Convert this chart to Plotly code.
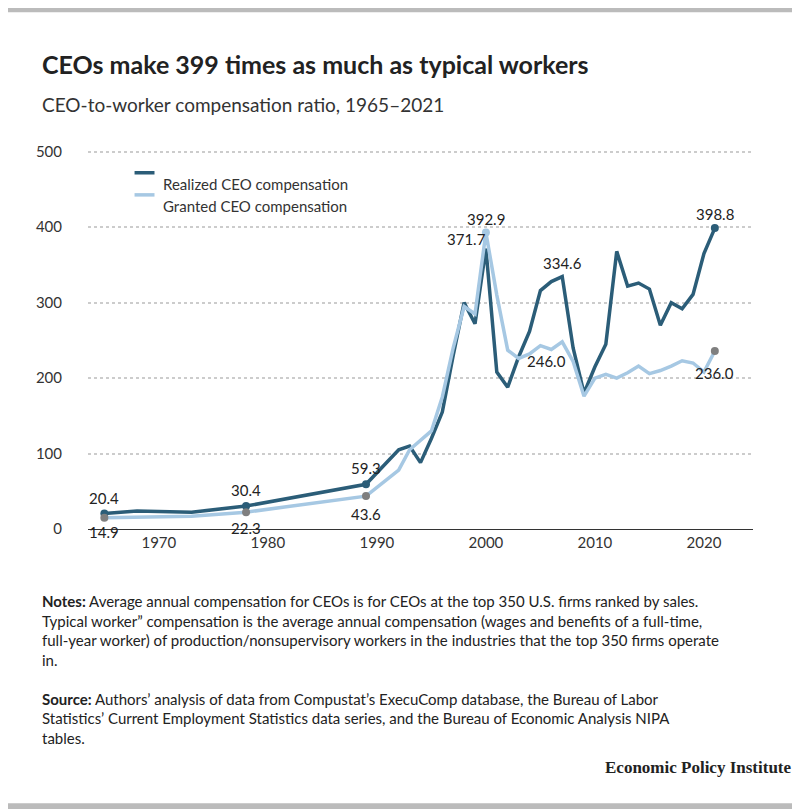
import plotly.graph_objects as go

years_r = [1965,1968,1973,1978,1989,1992,1993,1994,1995,1996,1997,1998,1999,2000,2001,2002,2003,2004,2005,2006,2007,2008,2009,2010,2011,2012,2013,2014,2015,2016,2017,2018,2019,2020,2021]
realized = [20.4,24,22.3,30.4,59.3,105,110,88,120,155,230,300,272,371.7,208,188,228,262,316,328,334.6,240,180,215,245,368,322,326,318,270,300,292,311,365,398.8]
years_g = [1965,1973,1978,1989,1992,1993,1995,1996,1997,1998,1999,2000,2001,2002,2003,2004,2005,2006,2007,2008,2009,2010,2011,2012,2013,2014,2015,2016,2017,2018,2019,2020,2021]
granted = [14.9,17,22.3,43.6,78,105,130,175,240,295,285,392.9,310,237,226,232,243,238,248,222,176,200,205,200,207,216,206,210,216,223,220,208,236]

dark = "#2b5d78"; light = "#a6c8e3"; gray = "#7f7f7f"
fig = go.Figure()
fig.add_trace(go.Scatter(x=years_r, y=realized, mode="lines", line=dict(color=dark, width=3.5), name="Realized CEO compensation"))
fig.add_trace(go.Scatter(x=years_g, y=granted, mode="lines", line=dict(color=light, width=3.5), name="Granted CEO compensation"))
rd = [(1965,20.4),(1978,30.4),(1989,59.3),(2021,398.8)]
fig.add_trace(go.Scatter(x=[a for a,b in rd], y=[b for a,b in rd], mode="markers", marker=dict(color=dark, size=8), showlegend=False))
gd = [(1965,14.9),(1978,22.3),(1989,43.6),(2021,236.0)]
fig.add_trace(go.Scatter(x=[a for a,b in gd], y=[b for a,b in gd], mode="markers", marker=dict(color=gray, size=8), showlegend=False))
fig.add_trace(go.Scatter(x=[2000], y=[392.9], mode="markers", marker=dict(color=light, size=8), showlegend=False))

labels = [(1965,20.4,"20.4",0,-16),(1965,14.9,"14.9",0,14),(1978,30.4,"30.4",0,-16),(1978,22.3,"22.3",0,16),
          (1989,59.3,"59.3",0,-16),(1989,43.6,"43.6",0,18),(2000,392.9,"392.9",0,-14),(1998.2,371.7,"371.7",0,-10),
          (2007,334.6,"334.6",0,-14),(2005.6,246.0,"246.0",0,18),(2021,398.8,"398.8",0,-14),(2021,236.0,"236.0",0,22)]
for x,y,t,ax,ay in labels:
    fig.add_annotation(x=x,y=y,text=t,showarrow=False,yshift=-ay,font=dict(size=15,color="#222"))

for i,(name,col) in enumerate([("Realized CEO compensation",dark),("Granted CEO compensation",light)]):
    yy = 0.935 - i*0.058
    fig.add_shape(type="line",xref="paper",yref="paper",x0=0.07,x1=0.1,y0=yy,y1=yy,line=dict(color=col,width=3.5))
    fig.add_annotation(xref="paper",yref="paper",x=0.11,y=yy,xanchor="left",text=name,showarrow=False,font=dict(size=15,color="#333"))

fig.update_layout(
    width=800,height=809,paper_bgcolor="white",plot_bgcolor="white",showlegend=False,
    margin=dict(l=80,r=55,t=140,b=288),
    font=dict(family="Lato, Roboto, sans-serif",color="#333"),
    xaxis=dict(range=[1963.5,2024.5],tickvals=[1970,1980,1990,2000,2010,2020],showgrid=False,
               showline=True,linecolor="#333",ticks="",tickfont=dict(size=15)),
    yaxis=dict(range=[0,505],tickvals=[0,100,200,300,400,500],gridcolor="#cccccc",griddash="dot",gridwidth=2,
               zeroline=False,tickfont=dict(size=15),ticklabelstandoff=25),
)
fig.add_shape(type="rect",xref="paper",yref="paper",x0=-0.2,x1=1.2,y0=1.356,y1=1.4,fillcolor="#bbbbbb",line_width=0)
fig.add_shape(type="rect",xref="paper",yref="paper",x0=-0.2,x1=1.2,y0=-0.735,y1=-0.72,fillcolor="#bbbbbb",line_width=0)
fig.add_annotation(xref="paper",yref="paper",x=-0.072,y=1.265,xanchor="left",text="<b>CEOs make 399 times as much as typical workers</b>",showarrow=False,font=dict(size=25,color="#222"))
fig.add_annotation(xref="paper",yref="paper",x=-0.072,y=1.15,xanchor="left",text="CEO-to-worker compensation ratio, 1965–2021",showarrow=False,font=dict(size=19,color="#333"))
fig.add_annotation(xref="paper",yref="paper",x=-0.072,y=-0.16,xanchor="left",yanchor="top",align="left",showarrow=False,font=dict(size=15,color="#222"),
    text="<b>Notes:</b> Average annual compensation for CEOs is for CEOs at the top 350 U.S. firms ranked by sales.<br>Typical worker” compensation is the average annual compensation (wages and benefits of a full-time,<br>full-year worker) of production/nonsupervisory workers in the industries that the top 350 firms operate<br>in.<br><br><b>Source:</b> Authors’ analysis of data from Compustat’s ExecuComp database, the Bureau of Labor<br>Statistics’ Current Employment Statistics data series, and the Bureau of Economic Analysis NIPA<br>tables.")
fig.add_annotation(xref="paper",yref="paper",x=1.06,y=-0.655,xanchor="right",showarrow=False,
    text="<b>Economic Policy Institute</b>",font=dict(family="Liberation Serif, serif",size=17,color="#222"))
fig.write_html("out.html")
